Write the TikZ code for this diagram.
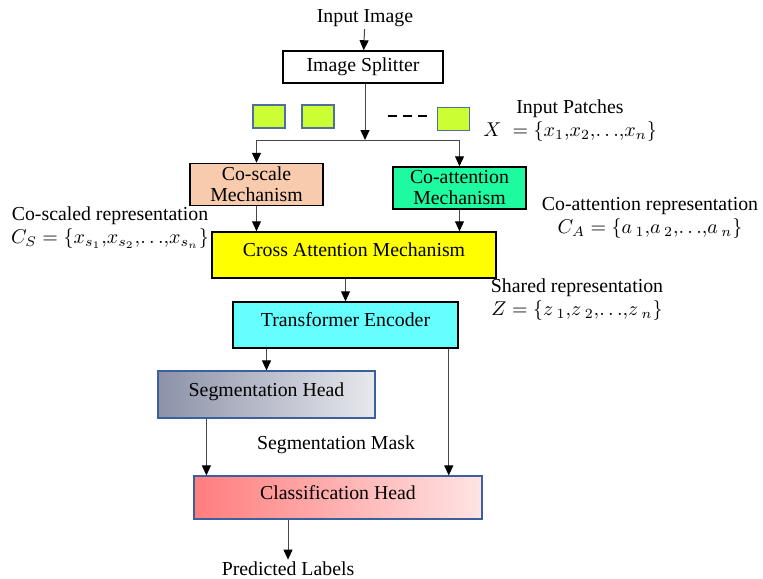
\documentclass[tikz,border=0pt]{standalone}
\usepackage{fontspec}
\setmainfont{Liberation Serif}
\usetikzlibrary{arrows.meta}
\definecolor{cpatch}{RGB}{204,255,51}
\definecolor{cpatchline}{RGB}{80,110,160}
\definecolor{cpeach}{RGB}{248,203,173}
\definecolor{cspring}{RGB}{30,250,160}
\definecolor{ccyan}{RGB}{102,255,255}
\definecolor{cyell}{RGB}{255,255,0}
\definecolor{cslate}{RGB}{140,146,168}
\definecolor{cpale}{RGB}{232,233,238}
\definecolor{cred}{RGB}{255,125,125}
\definecolor{cpink}{RGB}{255,228,228}
\definecolor{cblueline}{RGB}{60,95,160}
\definecolor{cline}{RGB}{70,70,70}
\tikzset{flowpic/.style={x=0.5pt,y=-0.5pt,font=\fontsize{9.9}{10.5}\selectfont},
  blk/.style={draw=black,line width=0.75pt,align=center,inner sep=0pt},
  headblk/.style={draw=cblueline,line width=0.6pt,align=center,inner sep=0pt},
  oneline/.style={text depth=5pt},
  patch/.style={draw=cpatchline,line width=0.7pt,fill=cpatch,minimum width=16pt,minimum height=11.5pt,inner sep=0pt},
  lbl/.style={align=center,inner sep=1pt},
  arr/.style={draw=cline,line width=0.5pt,-{Triangle[black,length=5pt,width=4.5pt]}}}

\begin{document}
\begin{tikzpicture}[flowpic]
    \useasboundingbox[fill=white] (0,0) rectangle (763,578);
    % top: input and splitter
    \node[lbl] (inimg) at (365,18) {Input Image};
    \node[blk,minimum width=80pt,minimum height=16pt] (splitter) at (363,67) {Image Splitter};
    \node[patch] (p1) at (269,116.5) {};
    \node[patch] (p2) at (318,116.5) {};
    \node[patch] (p3) at (453.5,119) {};
    \draw[line width=0.6pt,dash pattern=on 4.5pt off 3pt] (388,116) -- (428,116);
    \node[lbl] (patchlbl) at (570,121) {Input Patches\\[1pt]$X\;=\{x_1{,}x_2{,}{\ldots}{,}x_n\}$};
    \coordinate (split) at (365,140);
    % two branches
    \node[blk,fill=cpeach,minimum width=66.5pt,minimum height=21pt] (coscale) at (256.5,184.5) {Co-scale\\Mechanism};
    \node[blk,fill=cspring,minimum width=66.5pt,minimum height=21pt] (coatt) at (459.5,188) {Co-attention\\Mechanism};
    \node[lbl] (coslbl) at (110,228) {Co-scaled representation\\[1pt]$C_S=\{x_{s_1}{,}x_{s_2}{,}{\ldots}{,}x_{s_n}\}$};
    \node[lbl] (coattlbl) at (650,218) {Co-attention representation\\[1pt]$C_A=\{{a\,}_1{,}{a\,}_2{,}{\ldots}{,}{a\,}_n\}$};
    \node[blk,oneline,fill=cyell,minimum width=142pt,minimum height=23pt] (cross) at (354,255) {Cross Attention Mechanism};
    \node[lbl] (sharedlbl) at (577,300) {Shared representation\\[1pt]$Z=\{{z\,}_1{,}{z\,}_2{,}{\ldots}{,}{z\,}_n\}$};
    \node[blk,oneline,fill=ccyan,minimum width=112.5pt,minimum height=23pt] (trans) at (345.5,325) {Transformer Encoder};
    % heads
    \node[headblk,oneline,left color=cslate,right color=cpale,minimum width=108.5pt,minimum height=23.5pt] (seghead) at (266.5,394.5) {Segmentation Head};
    \node[lbl] (masklbl) at (336,445) {Segmentation Mask};
    \node[headblk,oneline,left color=cred,right color=cpink,minimum width=144pt,minimum height=21.5pt] (clshead) at (338,497.5) {Classification Head};
    \node[lbl] (predlbl) at (288,569) {Predicted Labels};
    % connectors
    \draw[arr] (inimg) -- (splitter);
    \draw[arr] (splitter.south -| split) -- (split);
    \draw[arr] (split) -| (coscale.north);
    \draw[arr] (split) -| (coatt.north);
    \draw[arr] (coscale) -- (coscale |- cross.north);
    \draw[arr] (coatt) -- (coatt |- cross.north);
    \draw[arr] (trans.north |- cross.south) -- (trans);
    \draw[arr] (seghead.north |- trans.south) -- (seghead);
    \draw[arr] ([xshift=24.5pt]seghead.south west) -- ([xshift=24.5pt]seghead.south west |- clshead.north);
    \draw[arr] ([xshift=-5pt]trans.south east) -- ([xshift=-5pt]trans.south east |- clshead.north);
    \draw[arr] (clshead.south -| predlbl) -- (predlbl);
  \end{tikzpicture}
\end{document}
